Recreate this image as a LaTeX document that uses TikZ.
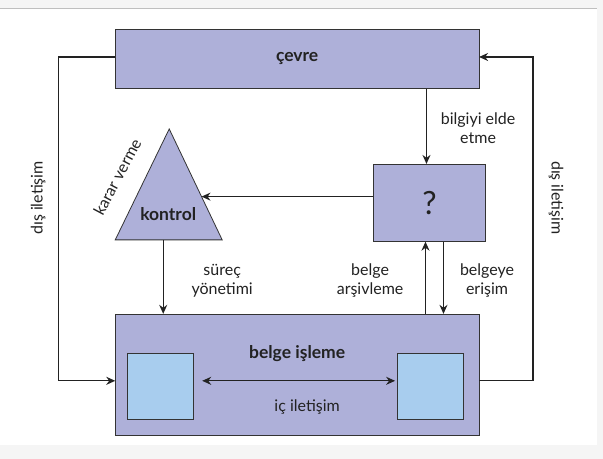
\documentclass[tikz,border=0pt]{standalone}
\usepackage{fontspec}
\setmainfont{Lato}
\usetikzlibrary{arrows.meta,calc}
\definecolor{lav}{HTML}{AEB0D9}
\definecolor{lblue}{HTML}{A8CDEE}
\definecolor{edgec}{HTML}{333333}
\definecolor{ink}{HTML}{222222}
\begin{document}
\begin{tikzpicture}[x=1pt,y=-1pt,
  font=\fontsize{16}{19}\selectfont,
  box/.style={draw=edgec, fill=lav, line width=0.8pt, inner sep=0pt, anchor=north west},
  sbox/.style={draw=edgec, fill=lblue, line width=0.8pt, inner sep=0pt, anchor=north west},
  conn/.style={draw=ink, line width=1.3pt, -{Stealth[length=9pt,width=8pt]}},
  lbl/.style={align=center, text=ink, inner sep=0pt},
  bold/.style={font=\fontsize{17.5}{20}\selectfont\bfseries, text=ink, inner sep=0pt}]
\fill[black!4] (0,0) rectangle (603,459);
\fill[white] (0,8) rectangle (597,445);
\draw[black!25, line width=0.6pt] (0,8) -- (597,8);
\useasboundingbox (0,0) rectangle (603,459);

% boxes
\node[box, minimum width=364pt, minimum height=59pt] (cevre) at (115,29) {};
\node[bold] (cevretxt) at (297,59) {çevre};
\node[box, minimum width=112pt, minimum height=77pt] (q) at (373,164) {};
\node[text=ink, font=\fontsize{32}{34}\selectfont] (qm) at (q.center) {?};
\node[box, minimum width=364pt, minimum height=121pt] (islem) at (115,314) {};
\node[bold] (islemtxt) at (297,354) {belge işleme};
\node[sbox, minimum width=66pt, minimum height=66pt] (sl) at (127,353) {};
\node[sbox, minimum width=66pt, minimum height=66pt] (sr) at (397,353) {};

% triangle
\coordinate (apex) at (169,129);
\coordinate (bl) at (115,240);
\coordinate (br) at (222,240);
\draw[draw=edgec, fill=lav, line width=0.8pt] (apex) -- (br) -- (bl) -- cycle;
\node[bold] (kontrol) at (168,214) {kontrol};
\coordinate (tr) at ($(apex)!0.61!(br)$);
\coordinate (tb) at (163,240);

% loop end points
\coordinate (cevL) at (115,57);
\coordinate (cevR) at (479,57);
\coordinate (bigL) at (115,381);
\coordinate (bigR) at (479,381);
\coordinate (dl) at (202,381);
\coordinate (dr) at (395,381);

% connectors
\draw[conn] (cevL) -- ++(-57,0) |- (bigL);
\draw[conn] (bigR) -- ++(54,0) |- (cevR);
\draw[conn] ([xshift=-3pt]q.north |- cevre.south) -- ([xshift=-3pt]q.north);
\draw[conn] (q.west |- tr) -- (tr);
\draw[conn] (tb) -- (tb |- islem.north);
\draw[conn] ([xshift=-4pt]q.south |- islem.north) -- ([xshift=-4pt]q.south);
\draw[conn] ([xshift=14pt]q.south) -- ([xshift=14pt]q.south |- islem.north);
\draw[conn, {Stealth[length=9pt,width=8pt]}-{Stealth[length=9pt,width=8pt]}] (dl) -- (dr);

% labels
\node[lbl] (l1) at (478,128) {bilgiyi elde\\etme};
\node[lbl] (l2) at (222,281) {süreç\\yönetimi};
\node[lbl] (l3) at (370,281) {belge\\arşivleme};
\node[lbl] (l4) at (487,281) {belgeye\\erişim};
\node[lbl, rotate=62] (l5) at (117,177) {karar verme};
\node[lbl, rotate=90] (l6) at (38,198) {dış iletişim};
\node[lbl, rotate=-90] (l7) at (556,198) {dış iletişim};
\node[lbl] (l8) at (307,407) {iç iletişim};
\end{tikzpicture}
\end{document}
